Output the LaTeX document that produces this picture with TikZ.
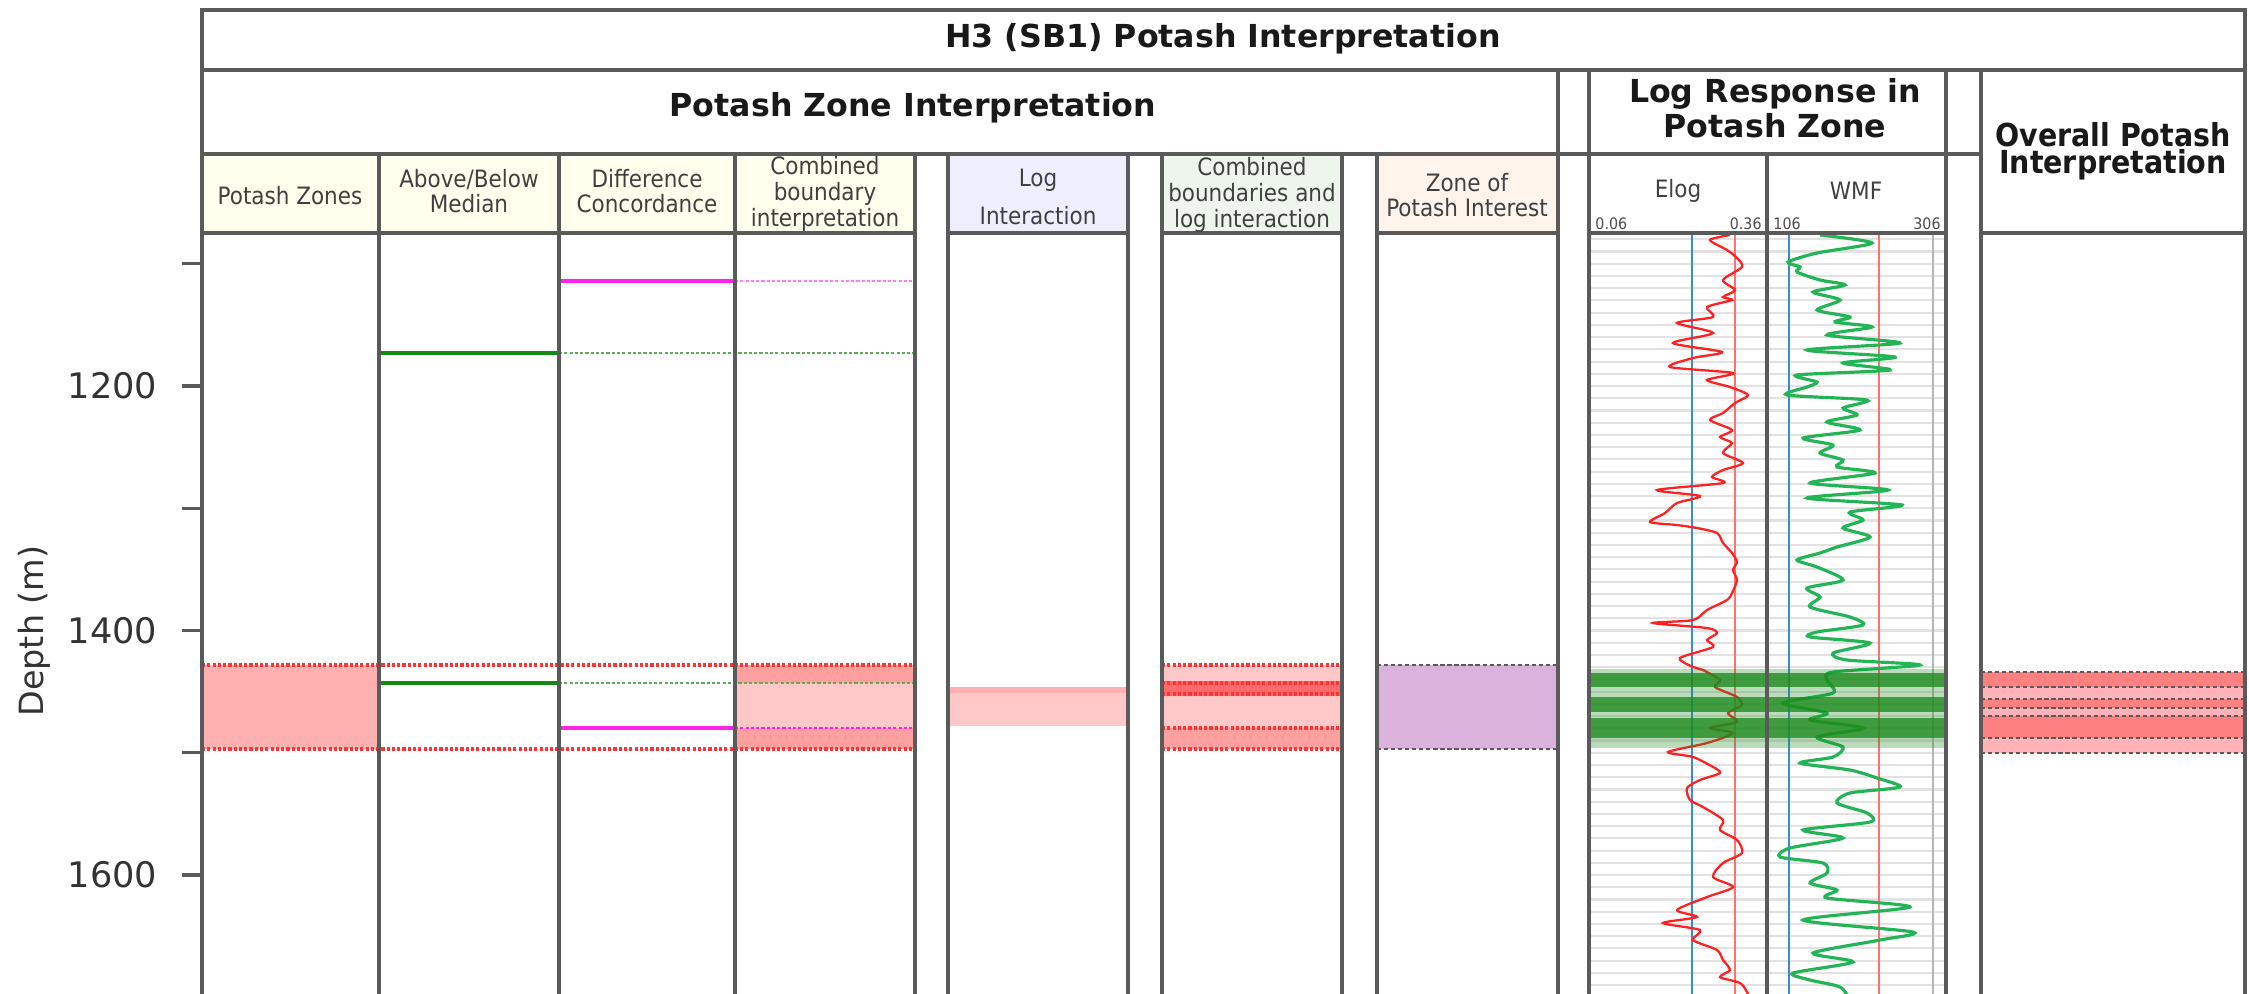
\documentclass[tikz,border=0pt]{standalone}
\usepackage{fontspec}
\setmainfont{DejaVu Sans}
\newfontfamily\condfont{DejaVu Sans Condensed}

\definecolor{zonepink}{HTML}{FFB0B0}
\definecolor{zonedark}{HTML}{FFA0A0}
\definecolor{zonelight}{HTML}{FFC8C8}
\definecolor{zonered}{HTML}{FF6A6A}
\definecolor{overred}{HTML}{FF8080}
\definecolor{overlight}{HTML}{FFB3B8}
\definecolor{poiviolet}{HTML}{D9B3DB}
\definecolor{hdrivory}{HTML}{FFFFEE}
\definecolor{hdrlav}{HTML}{EEEEFF}
\definecolor{hdrmint}{HTML}{EEF5EC}
\definecolor{hdrpeach}{HTML}{FFF4EC}
\definecolor{elogred}{HTML}{FF2020}
\definecolor{wmfgreen}{HTML}{22B455}
\definecolor{cutblue}{HTML}{3A8BD0}
\definecolor{cutred}{HTML}{FF7070}
\definecolor{gridgrey}{HTML}{E2E2E2}
\definecolor{framegrey}{HTML}{5A5A5A}
\definecolor{bandgreen}{HTML}{1E8C1E}
\definecolor{medgreen}{HTML}{138A13}
\definecolor{concmag}{HTML}{FF22EE}

\tikzset{
	frame/.style={draw=framegrey, line width=0.9pt},
	headbig/.style={font=\fontsize{9}{7.8}\selectfont\bfseries, align=center, text=black!90},
	headsmall/.style={font=\condfont\fontsize{6.8}{7.3}\selectfont, text=black!75, align=center},
	scalelab/.style={font=\condfont\fontsize{4.5}{5}\selectfont, text=black!70, inner sep=0.5pt},
	axislab/.style={font=\fontsize{10}{12}\selectfont, text=black!80, inner sep=0pt},
	boundary/.style={line width=1.2pt},
	tieline/.style={line width=0.8pt, dash pattern=on 0.9pt off 0.6pt},
	zoneedge/.style={draw=red!80, line width=0.9pt, dash pattern=on 0.9pt off 0.6pt},
	ovedge/.style={draw=black!65, line width=0.7pt, dash pattern=on 1.2pt off 0.8pt}
}

\begin{document}
\begin{tikzpicture}[x=0.01cm, y=-0.01cm]
	\useasboundingbox (0,0) rectangle (2249,993);
	\clip (0,0) rectangle (2249,993);

	\fill[hdrivory] (202,154) rectangle (915,233);
	\fill[hdrlav] (948,154) rectangle (1128,233);
	\fill[hdrmint] (1162,154) rectangle (1342,233);
	\fill[hdrpeach] (1377,154) rectangle (1558,233);

	\fill[zonepink] (202,665) rectangle (379,749);
	\fill[zonedark] (735,665) rectangle (915,683);
	\fill[zonelight] (735,683) rectangle (915,728);
	\fill[zonedark] (735,728) rectangle (915,749);
	\fill[zonepink] (948,687) rectangle (1128,693);
	\fill[zonelight] (948,693) rectangle (1128,726);
	\fill[zonelight] (1162,665) rectangle (1342,681);
	\fill[zonered] (1162,681) rectangle (1342,696);
	\fill[zonelight] (1162,696) rectangle (1342,728);
	\fill[zonedark] (1162,728) rectangle (1342,749);
	\fill[poiviolet] (1377,665) rectangle (1558,749);
	\fill[overred] (1981,672) rectangle (2245,687);
	\fill[overlight] (1981,687) rectangle (2245,699);
	\fill[overred] (1981,699) rectangle (2245,708);
	\fill[overlight] (1981,708) rectangle (2245,716);
	\fill[overred] (1981,716) rectangle (2245,738);
	\fill[overlight] (1981,738) rectangle (2245,753);

	\draw[concmag, boundary] (559,281) -- (735,281);
	\draw[concmag!60, tieline] (735,281) -- (915,281);
	\draw[medgreen, boundary] (379,353) -- (559,353);
	\draw[medgreen!70, tieline] (559,353) -- (915,353);
	\draw[medgreen, boundary] (379,683) -- (559,683);
	\draw[medgreen!70, tieline] (559,683) -- (915,683);
	\draw[concmag, boundary] (559,728) -- (735,728);
	\draw[concmag, tieline] (735,728) -- (915,728);
	\draw[zoneedge] (202,665) -- (915,665);
	\draw[zoneedge] (202,749) -- (915,749);
	\draw[zoneedge] (1162,665) -- (1342,665);
	\draw[zoneedge] (1162,683) -- (1342,683);
	\draw[zoneedge] (1162,694) -- (1342,694);
	\draw[zoneedge] (1162,728) -- (1342,728);
	\draw[zoneedge] (1162,749) -- (1342,749);
	\draw[ovedge] (1377,665) -- (1558,665);
	\draw[ovedge] (1377,749) -- (1558,749);
	\foreach \y in {672,687,699,708,716,738,753}
		\draw[ovedge] (1981,\y) -- (2245,\y);

	\foreach \d in {1080,1090,...,1690}
		\draw[gridgrey, line width=0.6pt] (1589,{386+(\d-1200)*1.2225}) -- (1946,{386+(\d-1200)*1.2225});
	\draw[gridgrey!80!black, line width=0.5pt] (1933,233) -- (1933,1000);
	\draw[cutblue, line width=0.8pt] (1692,233) -- (1692,1000);
	\draw[cutred, line width=0.7pt] (1735,233) -- (1735,1000);
	\draw[cutblue, line width=0.8pt] (1789,233) -- (1789,1000);
	\draw[cutred, line width=0.7pt] (1879,233) -- (1879,1000);

	\begin{scope}
		\clip (1589,233) rectangle (1767,1000);
		\draw[elogred, line width=0.65pt] plot[smooth, tension=0.45] coordinates {
			(1730,235) (1710,240) (1727,250) (1737,258) (1742,267) (1723,280) (1735,290) (1723,297)
			(1732,300) (1707,307) (1713,317) (1677,323) (1713,333) (1673,343) (1722,352) (1693,358)
			(1670,367) (1733,373) (1707,380) (1730,387) (1748,395) (1735,403) (1723,413) (1710,420)
			(1732,430) (1720,437) (1732,443) (1723,453) (1743,463) (1723,470) (1712,477) (1723,483)
			(1657,490) (1700,496) (1677,503) (1665,513) (1650,522) (1677,525) (1697,528) (1717,533)
			(1723,543) (1732,553) (1737,562) (1733,570) (1737,580) (1732,593) (1727,600) (1707,610)
			(1693,620) (1653,623) (1707,628) (1717,633) (1707,640) (1713,647) (1680,658) (1693,667)
			(1703,670) (1720,680) (1715,687) (1737,697) (1742,705) (1728,713) (1737,722) (1710,728)
			(1733,733) (1707,743) (1668,752) (1693,757) (1713,767) (1720,773) (1700,780) (1687,788)
			(1690,800) (1703,807) (1723,820) (1720,830) (1737,840) (1742,853) (1723,863) (1713,877)
			(1733,887) (1707,897) (1677,910) (1697,917) (1663,923) (1700,930) (1693,940) (1717,950)
			(1723,960) (1730,970) (1720,977) (1740,983) (1747,992) (1750,1000)};
	\end{scope}
	\begin{scope}
		\clip (1767,233) rectangle (1946,1000);
		\draw[wmfgreen, line width=0.9pt] plot[smooth, tension=0.45] coordinates {
			(1820,235) (1872,243) (1817,253) (1788,262) (1800,267) (1797,272) (1820,280) (1845,285)
			(1813,292) (1840,300) (1817,310) (1850,317) (1835,322) (1872,327) (1827,335) (1900,343)
			(1807,350) (1895,357) (1843,363) (1890,370) (1797,375) (1817,382) (1807,387) (1787,395)
			(1867,400) (1843,408) (1857,415) (1827,422) (1860,430) (1803,438) (1833,445) (1820,453)
			(1843,460) (1837,467) (1875,473) (1810,483) (1888,490) (1807,498) (1902,505) (1850,512)
			(1863,520) (1843,528) (1870,537) (1837,547) (1820,553) (1797,560) (1817,567) (1843,580)
			(1807,588) (1820,597) (1810,607) (1850,617) (1863,625) (1817,632) (1810,637) (1870,643)
			(1833,653) (1847,660) (1920,665) (1833,672) (1827,680) (1833,693) (1783,703) (1827,713)
			(1810,720) (1863,728) (1817,737) (1843,747) (1833,757) (1800,763) (1850,770) (1877,778)
			(1900,787) (1850,793) (1837,803) (1867,813) (1870,822) (1803,830) (1843,838) (1790,848)
			(1780,857) (1823,863) (1827,873) (1810,883) (1837,890) (1827,898) (1910,907) (1803,920)
			(1913,932) (1880,940) (1813,953) (1853,962) (1793,973) (1810,980) (1840,987) (1850,1000)};
	\end{scope}
	\fill[bandgreen, opacity=0.3] (1589,669) rectangle (1946,748);
	\fill[bandgreen, opacity=0.8] (1589,673) rectangle (1946,687);
	\fill[bandgreen, opacity=0.8] (1589,697) rectangle (1946,712);
	\fill[bandgreen, opacity=0.8] (1589,718) rectangle (1946,738);

	\draw[frame] (202,1000) -- (202,10) -- (2245,10) -- (2245,1000);
	\draw[frame] (202,70) -- (2245,70);
	\draw[frame] (202,154) -- (1981,154);
	\foreach \a/\b in {202/379,379/559,559/735,735/915,948/1128,1162/1342,1377/1558,1589/1767,1767/1946,1981/2245}
		\draw[frame] (\a,233) -- (\b,233);
	\foreach \x in {379,559,735,915,948,1128,1162,1342,1377,1767}
		\draw[frame] (\x,154) -- (\x,1000);
	\foreach \x in {1558,1589,1946,1981}
		\draw[frame] (\x,70) -- (\x,1000);

	\foreach \d in {1100,1200,...,1600}
		\draw[framegrey, line width=0.9pt] (182,{386+(\d-1200)*1.2225}) -- (202,{386+(\d-1200)*1.2225});
	\foreach \d in {1200,1400,1600}
		\node[axislab, anchor=east] (d\d) at (158,{386+(\d-1200)*1.2225}) {\d};
	\node[axislab, rotate=90, font=\fontsize{9.5}{12}\selectfont] (depthlab) at (34,631) {Depth (m)};

	\node[headbig] (title) at (1223,39) {H3 (SB1) Potash Interpretation};
	\node[headbig] (zonehead) at (913,108) {Potash Zone Interpretation};
	\node[headbig] (loghead) at (1775,108) {Log Response in\\Potash Zone};
	\node[headbig, font=\condfont\fontsize{9}{7.8}\selectfont\bfseries] (overallhead) at (2113,151) {Overall Potash\\Interpretation};

	\node[headsmall] (hzones) at (290,196) {Potash Zones};
	\node[headsmall] (hmedian) at (469,191) {Above/Below\\Median};
	\node[headsmall] (hconc) at (647,191) {Difference\\Concordance};
	\node[headsmall] (hcomb) at (825,194) {Combined\\boundary\\interpretation};
	\node[headsmall] (hlog) at (1038,197) {Log\\[3.5pt]Interaction};
	\node[headsmall] (hcomblog) at (1252,195) {Combined\\boundaries and\\log interaction};
	\node[headsmall] (hpoi) at (1467,195) {Zone of\\Potash Interest};
	\node[headsmall] (helog) at (1678,191) {Elog};
	\node[headsmall] (hwmf) at (1856,191) {WMF};

	\node[scalelab, anchor=south west] (elogmin) at (1593,232) {0.06};
	\node[scalelab, anchor=south east] (elogmax) at (1764,232) {0.36};
	\node[scalelab, anchor=south west] (wmfmin) at (1771,232) {106};
	\node[scalelab, anchor=south east] (wmfmax) at (1943,232) {306};
\end{tikzpicture}
\end{document}
